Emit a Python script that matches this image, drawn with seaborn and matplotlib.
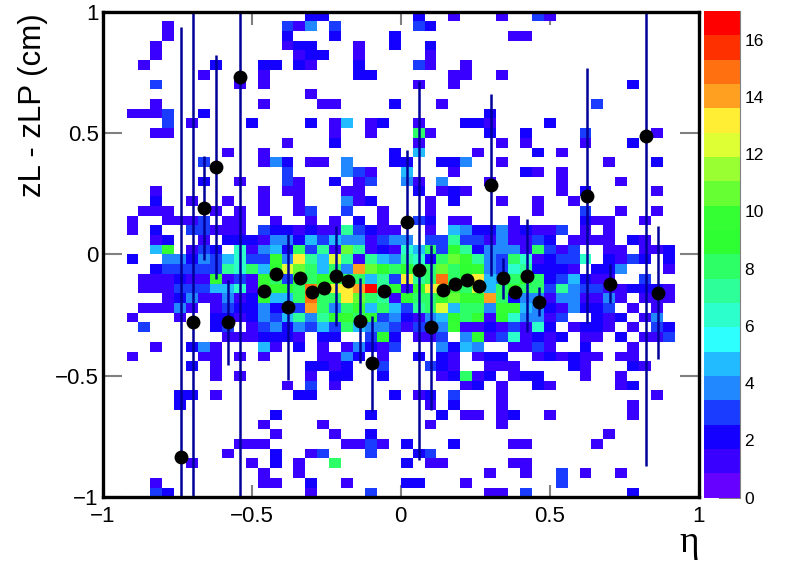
import numpy as np
import pandas as pd
import matplotlib
matplotlib.use('Agg')
import matplotlib.pyplot as plt
from matplotlib.colors import ListedColormap
import seaborn as sns

# counts per bin, top row first, base 18 digits ('.' = empty, a=10 ... h=17)
count_rows = [
    "..... ..... ..... ..22. ..... .2..1 ...1. .31.. ..... .....",
    "..... 1.... ..... 314.3 ..... .32.. ..... ..... ..... .....",
    "..... 1.... ..... 2...2 ....2 ..... ....1 1.... ..... .....",
    "....1 ..... ..... 122.. .1..2 ..2.. ..... ..... ..... .....",
    "....1 ..... ..... .122. .1... ..1.. ..... ..... ..... .....",
    "...1. ....2 ...22 .21.. .2... .31.. 1.... ..... ..... .....",
    "..... ...1. ...1. ..... .22.. ....1 1..1. ..... ..... .....",
    "....3 ..... .1.1. ..... ..... .1..1 ..... ..... ....2 .....",
    "..... ..... ..... ..1.. ..... ..... ..... ..... ..... .....",
    "....1 ..... ...1. ...11 ....2 ...1. ..... ..... .3... .....",
    "..111 3..2. ..... ..... ..... ..... ..2.. ..... ..... .....",
    "..... 3.1.. ..2.. ..2.1 5.12. .1... 221.. ..2.. ..... .....",
    "....1 1.... ..... ....1 ..1.. .81.. ..2.. 2.... 3.... .1...",
    "..... ..... ..... 1...2 ..... .1... ...1. 1.... 1...2 .....",
    "..... ..... 1..1. ..... ....2 .5... .1... .2.1. ..... .....",
    "..... ...3. ...14 2.11. 4...2 2..22 4..1. ..... ..1.. .2...",
    "..... ..... ..... 3.... 431.. 5...1 ..... 21.1. ..... .....",
    "..... ...2. .1... 31..2 .13.. 41.4. ..1.. ...1. ...1. .....",
    "....1 ..... ...1. 11... 11... .2.12 1.... ...1. 2.... .1...",
    "....2 ..1.. 1..1. .1... 412.. ..1.2 ...1. .1..1 ..... .....",
    "...11 1...1 .1.1. .13.. 3..1. ..1.. ..... .1... 3..1. .1...",
    "..1.. 1113. 11..1 ..1.1 .2.1. .32.1 1...1 ..... 211.. 1....",
    "..1.2 ..331 11.32 21211 73211 ..1.5 42241 2113. 1.1.. .....",
    "....1 2..1. 22214 42535 44134 4.337 33141 132.1 111.2 1....",
    "....5 a.132 .6145 28371 b7121 65839 72444 18313 ..11. 112..",
    "..2.. 44243 5633a 4d75c 71754 7628b a7438 61233 6.213 2.2..",
    "....2 33333 76859 cb858 4eb98 978b8 9a436 72221 .224. ..1..",
    "...11 1211a 131a8 3989a 88573 d78f8 9d548 98235 211.. 3....",
    "...11 13335 561aa 98fbd deh79 19dca 8c589 88374 33112 221..",
    "..... 12411 41295 58f88 db871 988ab aae82 44144 1141. 111..",
    "...11 141.1 32242 23e84 8a585 378c5 884aa 54214 223.1 .1...",
    "..1.. .1..2 21243 57479 a8934 21459 8a196 4413. .212. 14...",
    "...3. ....2 3.134 24353 85443 1334a 11213 162.1 221.1 .32..",
    "..... ..... 11122 21.22 ..392 .113. 49136 1212. 11.2. 113..",
    "....1 ..241 ...51 .2.1. 14213 ...42 54..1 131.. 2...1 .....",
    "..1.. ...11 .1.1. ...11 42.1. .2.21 .122. .1212 11.11 .....",
    "..... ..2.1 ..... ..221 2..3. ..321 ..111 ....2 1...2 1....",
    "..... ....1 .1... ..1.2 2..2. ...12 812.1 22... 1..1. .....",
    "..... ..... ..... 1.3.1 ..... ..... 12.1. .21.. ...12 .....",
    "..... .22.1 ..... .22.. ....2 .12.3 ...1. ..... ..... .1...",
    "..... .2... ..... ..... ..... ..1.2 ...1. ..... ....1 .....",
    "..... ..... ....2 ..... ..2.. ...2. 11.12 ..1.. ....1 .....",
    "..... ..... ...1. ...1. ..... ..1.. ...1. ..... ..... .....",
    "..... ..... ....1 ....1 ..2.. ..... ..... ..... ..1.. .....",
    "..... ..... .111. ..... 1131. 2...2 ....1 1.... .1... .....",
    "..... ..... 1...2 ..13. ..3.. .23.. ..... ..... ..... .....",
    "..... ..1.. ..1.2 .1..8 ..... 2.11. ....1 1.... ..... .....",
    "..... ..... ...1. .1... ..... ..... ..1.. 1..3. 1..1. .....",
    "....1 ..... ...11 ..2.. 1.... 22... 1.... ...3. ..... .....",
    "....3 2.... ..... ..1.. ..3.. ..... ..11. 3.... ....2 .....",
]

# profile points on top of the 2D histogram
prof_eta = [-0.737, -0.697, -0.66, -0.62, -0.58, -0.539, -0.459, -0.42, -0.379,
            -0.338, -0.298, -0.257, -0.218, -0.177, -0.137, -0.096, -0.056, 0.021,
            0.061, 0.102, 0.142, 0.182, 0.222, 0.263, 0.303, 0.343, 0.383, 0.424,
            0.464, 0.625, 0.702, 0.823, 0.863]
prof_mean = [-0.833, -0.28, 0.19, 0.36, -0.28, 0.73, -0.149, -0.08, -0.217,
             -0.098, -0.154, -0.14, -0.088, -0.108, -0.274, -0.449, -0.149, 0.135,
             -0.065, -0.30, -0.145, -0.121, -0.104, -0.132, 0.286, -0.098, -0.153, -0.088,
             -0.194, 0.242, -0.121, 0.488, -0.157]
prof_err = [1.77, 1.4, 0.215, 0.46, 0.175, 1.8, 0.0, 0.0, 0.30,
            0.0, 0.0, 0.0, 0.205, 0.0, 0.175, 0.195, 0.0, 0.295,
            0.78, 0.34, 0.0, 0.0, 0.0, 0.0, 0.375, 0.085, 0.0, 0.233,
            0.06, 0.525, 0.08, 1.36, 0.275]

palette = ['#6600ff', '#3a00ff', '#1400ff', '#1a3cff', '#2288ff', '#22bbff', '#2dffff',
           '#2dffcc', '#2dff99', '#2dff66', '#2dff33', '#33ff33', '#66ff33', '#99ff33',
           '#ddff33', '#ffee33', '#ffa020', '#ff7010', '#ff3000', '#ff0000']

axis_ticks = [-1, -0.5, 0, 0.5, 1]
axis_labels = ['\u22121', '\u22120.5', '0', '0.5', '1']
cbar_ticks = [0, 2, 4, 6, 8, 10, 12, 14, 16]

W, H = 796, 573


def build_frame():
    edges = np.linspace(-1, 1, 51)
    centers = (edges[:-1] + edges[1:]) / 2
    recs = []
    for j, row in enumerate(count_rows):
        cells = row.replace(' ', '')
        for i, c in enumerate(cells):
            if c != '.':
                recs.append((centers[i], centers[49 - j], int(c, 18)))
    return pd.DataFrame(recs, columns=['eta', 'dz', 'count'])


def main():
    sns.set_style('white')
    plt.rcParams['font.family'] = ['Liberation Sans', 'DejaVu Sans']
    plt.rcParams['text.color'] = 'black'
    plt.rcParams['xtick.labelcolor'] = 'black'
    plt.rcParams['ytick.labelcolor'] = 'black'

    fig = plt.figure(figsize=(W / 100, H / 100), dpi=100)
    ax = fig.add_axes([102.7 / W, 1 - 497.3 / H, 596 / W, 485.8 / H])
    cax = fig.add_axes([704 / W, 1 - 497.5 / H, 36 / W, 486.5 / H])

    sns.histplot(data=build_frame(), x='eta', y='dz', weights='count', bins=50,
                 binrange=((-1, 1), (-1, 1)), cmap=ListedColormap(palette),
                 cbar=True, cbar_ax=cax, ax=ax)
    ax.collections[0].set_clim(0, 17)

    ax.errorbar(prof_eta, prof_mean, yerr=prof_err, fmt='none', ecolor='#000099',
                elinewidth=1.8, capsize=0, zorder=3)
    sns.scatterplot(x=prof_eta, y=prof_mean, color='black', s=100, linewidth=0,
                    zorder=4, ax=ax)

    ax.set_xlim(-1, 1)
    ax.set_ylim(-1, 1)
    ax.set_xticks(axis_ticks, axis_labels, fontsize=16)
    ax.set_yticks(axis_ticks, axis_labels, fontsize=16)
    ax.tick_params(axis='x', which='major', direction='in', length=9, width=1.5,
                   color='#808080', top=True, bottom=True, pad=6)
    ax.tick_params(axis='y', which='major', direction='in', length=14, width=1.5,
                   color='#808080', left=True, right=True, pad=3)
    for spine in ax.spines.values():
        spine.set_visible(True)
        spine.set_color('black')
        spine.set_linewidth(2.4)
        spine.set_zorder(5)

    ax.set_xlabel('')
    ax.set_ylabel('')
    fig.text(689 / W, 1 - 552 / H, '\u03b7', family=['Liberation Serif', 'DejaVu Serif'],
             fontsize=27, ha='center', va='baseline')
    fig.text(48 / W, 1 - 13 / H, 'zL - zLP (cm)', rotation=90, fontsize=22.5,
             ha='right', va='top')

    cax.set_yticks(cbar_ticks)
    cax.tick_params(axis='y', direction='in', length=15, width=1.2, color=(0, 0, 0, 0.6),
                    labelsize=12.5, right=True, left=False, labelright=True, labelleft=False, pad=3)
    for name, spine in cax.spines.items():
        spine.set_visible(name == 'right')
        spine.set_color('#808080')
        spine.set_linewidth(0.8)

    fig.savefig('out.png', dpi=100)


if __name__ == "__main__":
    main()
